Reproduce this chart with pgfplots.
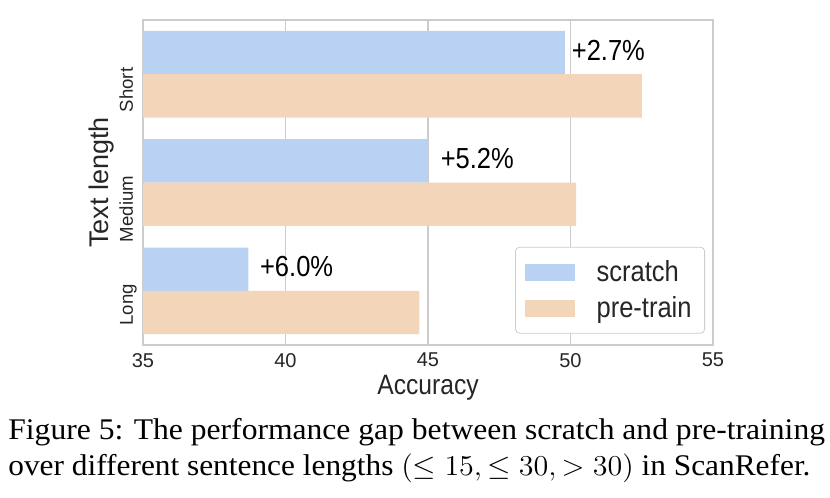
\documentclass[border=0pt]{standalone}
\usepackage{fontspec}
\usepackage{graphicx}
\setmainfont{Liberation Serif}
\newfontfamily\cf[FakeStretch=0.88]{Liberation Sans}
\newfontfamily\cfr{Liberation Sans}
\usepackage{pgfplots}
\pgfplotsset{compat=1.18}
\definecolor{scr}{HTML}{B9D2F3}
\definecolor{pre}{HTML}{F3D6B9}
\definecolor{gridc}{HTML}{CCCCCC}
\begin{document}
\begin{tikzpicture}[x=1pt,y=1pt]
\useasboundingbox (0,0) rectangle (415,249);
\begin{axis}[at={(71.5pt,76.5pt)}, anchor=south west, scale only axis,
  width=285pt, height=162.5pt,
  xmin=35, xmax=55, ymin=-0.5, ymax=2.5, y dir=reverse,
  xtick={35,40,45,50,55}, ytick={0,1,2}, yticklabels={Short,Medium,Long},
  xmajorgrids, grid style={gridc, line width=0.6pt},
  axis line style={gridc, line width=0.7pt},
  major tick length=0pt,
  /pgf/number format/assume math mode=true,
  xticklabel style={font=\cfr\fontsize{10}{12}\selectfont, text=black!85, yshift=-0.5pt},
  yticklabel style={font=\cfr\fontsize{9.3}{10}\selectfont, text=black!85, rotate=90, anchor=base east, xshift=6.8pt, yshift=5pt},
  xlabel={Accuracy}, ylabel={Text length},
  every axis x label/.style={at={(axis description cs:0.5,-0.151)}, anchor=base},
  every axis y label/.style={at={(axis description cs:-0.0614,0.5)}, anchor=base, rotate=90},
  xlabel style={font=\cf\fontsize{14}{16}\selectfont, text=black!85},
  ylabel style={font=\cfr\fontsize{13.5}{16}\selectfont, text=black!85},
  xbar, bar width=0.4,
  legend style={at={(0.986,0.035)}, anchor=south east, draw=gridc, rounded corners=2pt,
    font=\cf\fontsize{14.5}{15}\selectfont, text=black!85, row sep=2pt,
    inner xsep=4.5pt, inner ysep=4.5pt, nodes={inner ysep=2pt},
    /tikz/every odd column/.append style={column sep=9pt}},
  legend cell align=left,
]
\addplot[fill=scr, draw=none, bar shift=-0.2,
  legend image code/.code={\fill[scr, sharp corners] (0pt,-4.25pt) rectangle (25pt,4.25pt);}]
  coordinates {(49.8,0) (45.0,1) (38.7,2)};
\addplot[fill=pre, draw=none, bar shift=0.2,
  legend image code/.code={\fill[pre, sharp corners] (0pt,-4.25pt) rectangle (25pt,4.25pt);}]
  coordinates {(52.5,0) (50.2,1) (44.7,2)};
\legend{scratch, pre-train}
\node[anchor=west, font=\cf\fontsize{14.5}{16}\selectfont, text=black] at (axis cs:49.8,-0.22) {+2.7\%};
\node[anchor=west, font=\cf\fontsize{14.5}{16}\selectfont, text=black] at (axis cs:45.2,0.78) {+5.2\%};
\node[anchor=west, font=\cf\fontsize{14.5}{16}\selectfont, text=black] at (axis cs:38.86,1.78) {+6.0\%};
\end{axis}
\node[anchor=base west, inner sep=0pt, font=\fontsize{15}{17.5}\selectfont] at (4,29) {\scalebox{1.053}[1]{Figure 5: The performance gap between scratch and pre-training}};
\node[anchor=base west, inner sep=0pt, font=\fontsize{15}{17.5}\selectfont] at (4,11) {\scalebox{1.045}[1]{over different sentence lengths $(\leq 15, \leq 30, > 30)$ in ScanRefer.}};
\end{tikzpicture}
\end{document}
